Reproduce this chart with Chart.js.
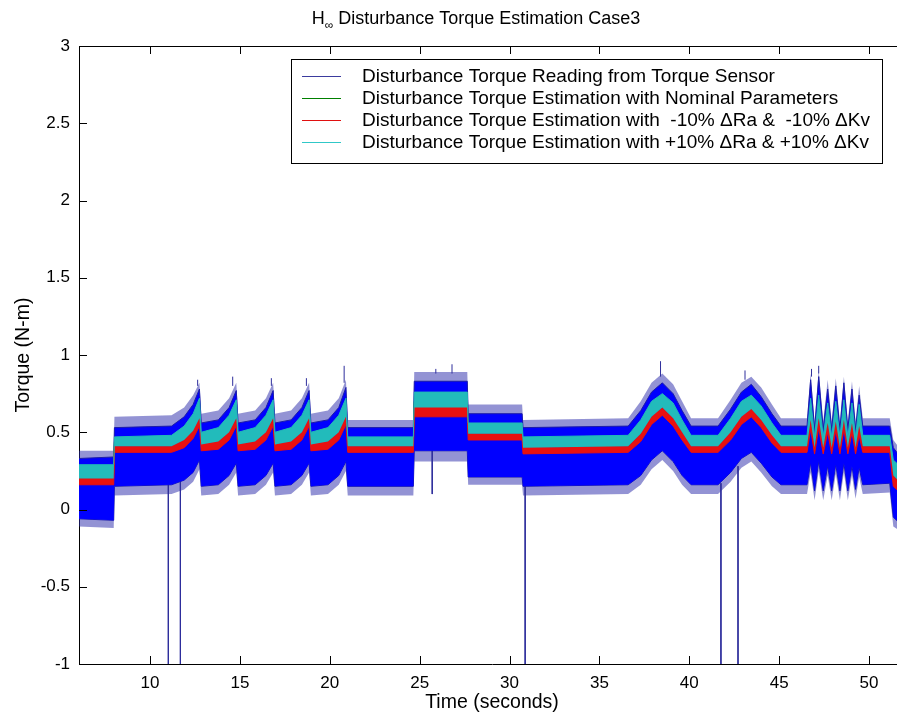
<!DOCTYPE html>
<html>
<head>
<meta charset="utf-8">
<script src="https://cdn.jsdelivr.net/npm/chart.js@4"></script>
<style>
  html, body { margin: 0; padding: 0; background: #fff; overflow: hidden; }
  #wrap { width: 897px; height: 715px; overflow: hidden; }
</style>
</head>
<body>
<div id="wrap"><canvas id="myChart" width="930" height="715"></canvas></div>
<script>
// envelope of each trace (seconds / N-m)
const time = [
  6.0, 7.98, 8.02, 11.2, 11.9, 12.4, 12.75,
  12.85, 13.8, 14.4, 14.8, 14.9, 15.85, 16.45, 16.85, 16.95, 17.85, 18.45, 18.85, 18.95, 19.9, 20.5, 20.9,
  21.0, 24.65, 24.7, 27.65, 27.7, 30.7, 30.75,
  36.6, 37.3, 37.9, 38.5, 39.1, 39.6, 40.1, 41.6, 42.3, 42.9, 43.45, 44.0, 44.6, 45.1,
  46.55, 46.75, 46.97, 47.2, 47.45, 47.7, 47.92, 48.15, 48.38, 48.6, 48.82, 49.05, 49.25, 49.45,
  49.65, 51.15, 51.35, 52.0
];
// tips of the sensor noise spikes
const spikeHigh = [
  0.38, 0.38, 0.60, 0.61, 0.66, 0.74, 0.82,
  0.62, 0.64, 0.72, 0.82, 0.62, 0.64, 0.72, 0.82, 0.62, 0.64, 0.72, 0.82, 0.62, 0.64, 0.72, 0.84,
  0.58, 0.58, 0.89, 0.89, 0.68, 0.68, 0.58,
  0.59, 0.70, 0.82, 0.88, 0.81, 0.70, 0.59, 0.59, 0.71, 0.82, 0.86, 0.79, 0.68, 0.59,
  0.59, 0.88, 0.57, 0.90, 0.57, 0.84, 0.57, 0.85, 0.57, 0.86, 0.57, 0.83, 0.57, 0.80,
  0.59, 0.59, 0.45, 0.35
];
const spikeLow = [
  -0.11, -0.12, 0.09, 0.10, 0.13, 0.18, 0.26,
  0.09, 0.10, 0.16, 0.24, 0.09, 0.10, 0.16, 0.24, 0.09, 0.10, 0.16, 0.24, 0.09, 0.10, 0.16, 0.25,
  0.09, 0.09, 0.31, 0.31, 0.16, 0.16, 0.09,
  0.10, 0.16, 0.26, 0.32, 0.25, 0.16, 0.10, 0.10, 0.18, 0.27, 0.31, 0.24, 0.15, 0.10,
  0.10, 0.24, 0.06, 0.25, 0.06, 0.22, 0.06, 0.23, 0.06, 0.24, 0.06, 0.22, 0.07, 0.21,
  0.10, 0.11, -0.11, -0.16
];
// dense part of the sensor trace
const blueLow = [
  -0.06, -0.07, 0.15, 0.16, 0.19, 0.24, 0.32,
  0.15, 0.16, 0.22, 0.30, 0.15, 0.16, 0.22, 0.30, 0.15, 0.16, 0.22, 0.30, 0.15, 0.16, 0.22, 0.31,
  0.15, 0.15, 0.38, 0.38, 0.21, 0.21, 0.15,
  0.16, 0.22, 0.32, 0.38, 0.31, 0.22, 0.16, 0.16, 0.24, 0.33, 0.37, 0.30, 0.21, 0.16,
  0.16, 0.30, 0.12, 0.31, 0.12, 0.28, 0.12, 0.29, 0.12, 0.30, 0.12, 0.28, 0.13, 0.27,
  0.16, 0.17, -0.05, -0.12
];
const blueHigh = [
  0.33, 0.34, 0.53, 0.54, 0.60, 0.68, 0.78,
  0.56, 0.58, 0.66, 0.77, 0.56, 0.58, 0.66, 0.77, 0.56, 0.58, 0.66, 0.77, 0.56, 0.58, 0.66, 0.79,
  0.53, 0.53, 0.83, 0.83, 0.62, 0.62, 0.53,
  0.54, 0.64, 0.76, 0.82, 0.75, 0.64, 0.54, 0.54, 0.65, 0.76, 0.81, 0.73, 0.62, 0.54,
  0.54, 0.84, 0.52, 0.86, 0.52, 0.78, 0.52, 0.80, 0.52, 0.82, 0.52, 0.78, 0.52, 0.74,
  0.54, 0.54, 0.40, 0.30
];
const greenLine = [
  0.23, 0.23, 0.44, 0.44, 0.48, 0.55, 0.64,
  0.45, 0.47, 0.54, 0.63, 0.45, 0.47, 0.54, 0.63, 0.45, 0.47, 0.54, 0.63, 0.45, 0.47, 0.54, 0.64,
  0.44, 0.44, 0.70, 0.70, 0.52, 0.52, 0.43,
  0.44, 0.53, 0.64, 0.70, 0.63, 0.54, 0.44, 0.44, 0.54, 0.64, 0.69, 0.62, 0.52, 0.44,
  0.44, 0.63, 0.43, 0.64, 0.43, 0.61, 0.43, 0.62, 0.43, 0.63, 0.43, 0.61, 0.43, 0.59,
  0.44, 0.44, 0.26, 0.18
];
const redLow = [
  0.16, 0.16, 0.37, 0.37, 0.40, 0.46, 0.54,
  0.38, 0.39, 0.45, 0.54, 0.38, 0.39, 0.45, 0.54, 0.38, 0.39, 0.45, 0.54, 0.38, 0.39, 0.45, 0.55,
  0.37, 0.37, 0.60, 0.60, 0.45, 0.45, 0.36,
  0.37, 0.44, 0.55, 0.61, 0.54, 0.45, 0.37, 0.37, 0.45, 0.55, 0.60, 0.53, 0.43, 0.37,
  0.37, 0.52, 0.36, 0.53, 0.36, 0.50, 0.36, 0.51, 0.36, 0.52, 0.36, 0.50, 0.36, 0.48,
  0.37, 0.37, 0.15, 0.08
];
const redHigh = [
  0.20, 0.20, 0.41, 0.41, 0.45, 0.51, 0.59,
  0.42, 0.44, 0.50, 0.59, 0.42, 0.44, 0.50, 0.59, 0.42, 0.44, 0.50, 0.59, 0.42, 0.44, 0.50, 0.60,
  0.41, 0.41, 0.66, 0.66, 0.49, 0.49, 0.40,
  0.41, 0.49, 0.60, 0.66, 0.59, 0.50, 0.41, 0.41, 0.50, 0.60, 0.65, 0.58, 0.48, 0.41,
  0.41, 0.58, 0.40, 0.59, 0.40, 0.56, 0.40, 0.57, 0.40, 0.58, 0.40, 0.56, 0.40, 0.54,
  0.41, 0.41, 0.22, 0.14
];
const cyanHigh = [
  0.29, 0.29, 0.47, 0.48, 0.54, 0.62, 0.72,
  0.50, 0.53, 0.61, 0.71, 0.50, 0.53, 0.61, 0.71, 0.50, 0.53, 0.61, 0.71, 0.50, 0.53, 0.61, 0.72,
  0.47, 0.47, 0.76, 0.76, 0.56, 0.56, 0.47,
  0.48, 0.58, 0.70, 0.75, 0.69, 0.58, 0.48, 0.48, 0.59, 0.70, 0.74, 0.67, 0.56, 0.48,
  0.48, 0.72, 0.47, 0.74, 0.47, 0.69, 0.47, 0.70, 0.47, 0.71, 0.47, 0.69, 0.47, 0.68,
  0.48, 0.48, 0.32, 0.25
];

// single long sensor spikes (time, from, to)
const dropTime = [11.02, 11.69, 25.7, 30.87, 41.76, 42.71, 12.65, 14.6, 16.75, 18.7, 20.8, 25.9, 26.8, 38.4, 43.1, 46.8, 47.2];
const dropFrom = [0.17, 0.18, 0.38, 0.16, 0.17, 0.28, 0.80, 0.80, 0.80, 0.80, 0.82, 0.88, 0.88, 0.86, 0.84, 0.86, 0.88];
const dropTo = [-1.1, -1.1, 0.10, -1.1, -1.1, -1.1, 0.84, 0.86, 0.85, 0.85, 0.93, 0.91, 0.94, 0.96, 0.90, 0.91, 0.93];

const legendLabels = [
  "Disturbance Torque Reading from Torque Sensor",
  "Disturbance Torque Estimation with Nominal Parameters",
  "Disturbance Torque Estimation with  -10% \u0394Ra &  -10% \u0394Kv",
  "Disturbance Torque Estimation with +10% \u0394Ra & +10% \u0394Kv"
];

const FONT = "'Liberation Sans', Arial, sans-serif";
const pts = (arr) => time.map((t, i) => ({ x: t, y: arr[i] }));

const dropData = [];
dropTime.forEach((t, i) => {
  dropData.push({ x: t, y: dropFrom[i] }, { x: t, y: dropTo[i] }, { x: t, y: null });
});

const matlabFrame = {
  id: "matlabFrame",
  afterDraw(chart) {
    const { ctx, chartArea: a } = chart;
    const xs = chart.scales.x, ys = chart.scales.y;
    ctx.save();
    ctx.strokeStyle = "#000";
    ctx.lineWidth = 1;
    ctx.beginPath();
    ctx.moveTo(a.left, a.top + 0.5);
    ctx.lineTo(a.right, a.top + 0.5);
    xs.ticks.forEach((t) => {
      const px = Math.round(xs.getPixelForValue(t.value)) + 0.5;
      ctx.moveTo(px, a.bottom); ctx.lineTo(px, a.bottom - 8);
      ctx.moveTo(px, a.top); ctx.lineTo(px, a.top + 8);
    });
    ys.ticks.forEach((t) => {
      const py = Math.round(ys.getPixelForValue(t.value)) + 0.5;
      ctx.moveTo(a.left, py); ctx.lineTo(a.left + 8, py);
    });
    ctx.stroke();

    // title with subscript infinity
    ctx.fillStyle = "#000";
    ctx.textBaseline = "alphabetic";
    const big = "18px " + FONT, small = "12px " + FONT;
    const rest = " Disturbance Torque Estimation Case3";
    ctx.font = big;
    const wH = ctx.measureText("H").width, wR = ctx.measureText(rest).width;
    ctx.font = small;
    const wI = ctx.measureText("\u221E").width;
    let tx = 476 - (wH + wI + wR) / 2;
    const ty = 24;
    ctx.font = big; ctx.fillText("H", tx, ty); tx += wH;
    ctx.font = small; ctx.fillText("\u221E", tx, ty + 5); tx += wI;
    ctx.font = big; ctx.fillText(rest, tx, ty);

    // legend box
    const bx = 291, by = 59, bw = 591, bh = 104;
    ctx.fillStyle = "#fff";
    ctx.fillRect(bx, by, bw, bh);
    ctx.strokeRect(bx + 0.5, by + 0.5, bw, bh);
    ctx.font = "19px " + FONT;
    ctx.textBaseline = "middle";
    chart.data.datasets.filter((d) => d.label).forEach((d, i) => {
      const ly = by + 17 + i * 22;
      ctx.strokeStyle = d.legendColor;
      ctx.beginPath();
      ctx.moveTo(bx + 11, ly + 0.5); ctx.lineTo(bx + 50, ly + 0.5);
      ctx.stroke();
      ctx.fillStyle = "#000";
      ctx.fillText(d.label, bx + 71, ly + 1);
    });
    ctx.restore();
  }
};

const line = { pointRadius: 0, tension: 0, borderWidth: 1 };
const axisFont = { family: FONT, size: 17 };
const titleFont = { family: FONT, size: 19.5 };

new Chart(document.getElementById("myChart"), {
  type: "line",
  data: {
    datasets: [
      { ...line, label: legendLabels[0], legendColor: "#3b3b9e", data: pts(blueHigh), borderColor: "#1c1ca8", backgroundColor: "#0000ff", fill: 1, order: 6 },
      { ...line, data: pts(blueLow), borderColor: "#1c1ca8", fill: false, order: 6 },
      { ...line, data: pts(spikeHigh), borderWidth: 0, backgroundColor: "rgba(40,40,170,0.5)", fill: 3, order: 7 },
      { ...line, data: pts(spikeLow), borderWidth: 0, fill: false, order: 7 },
      { ...line, data: dropData, borderColor: "#2e2e9c", fill: false, spanGaps: false, order: 6 },
      { ...line, label: legendLabels[1], legendColor: "#008000", data: pts(greenLine), borderColor: "#008000", fill: false, order: 5 },
      { ...line, label: legendLabels[2], legendColor: "#e01010", data: pts(redHigh), borderColor: "#e81010", backgroundColor: "#e81010", fill: 7, order: 4 },
      { ...line, data: pts(redLow), borderColor: "#e81010", fill: false, order: 4 },
      { ...line, label: legendLabels[3], legendColor: "#30c8c8", data: pts(cyanHigh), borderColor: "#22b8b8", backgroundColor: "#22bbbb", fill: 6, order: 3 }
    ]
  },
  options: {
    responsive: false,
    animation: false,
    layout: { padding: { top: 46, right: 25, left: 0, bottom: 0 } },
    plugins: { legend: { display: false }, tooltip: { enabled: false } },
    scales: {
      x: {
        type: "linear",
        min: 6.05,
        max: 52,
        afterFit: (s) => { s.height = 51; },
        grid: { display: false, drawTicks: false },
        border: { color: "#000" },
        ticks: { stepSize: 5, includeBounds: false, maxRotation: 0, padding: 9, color: "#000", font: axisFont },
        title: { display: true, text: "Time (seconds)", color: "#000", font: titleFont, padding: { top: 0, bottom: 1 } }
      },
      y: {
        min: -1,
        max: 3,
        afterFit: (s) => { s.width = 79; },
        grid: { display: false, drawTicks: false },
        border: { color: "#000" },
        ticks: { stepSize: 0.5, padding: 9, color: "#000", font: axisFont, callback: (v) => String(v) },
        title: { display: true, text: "Torque (N-m)", color: "#000", font: titleFont, padding: { top: 12, bottom: 0 } }
      }
    }
  },
  plugins: [matlabFrame]
});
</script>
</body>
</html>
